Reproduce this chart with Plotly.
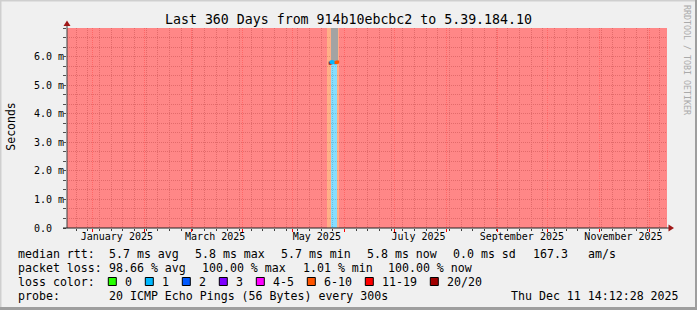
import pandas as pd
import plotly.graph_objects as go

# ---------------- data ----------------
T_START = "2024-12-16 14:12:28"
T_END = "2025-12-11 14:12:28"
Y_MAX = 0.007  # seconds

title_text = "Last 360 Days from 914b10ebcbc2 to 5.39.184.10"

y_tickvals = [0.0, 0.001, 0.002, 0.003, 0.004, 0.005, 0.006]
y_ticktext = ["0.0\u00a0\u00a0", "1.0 m", "2.0 m", "3.0 m", "4.0 m", "5.0 m", "6.0 m"]

x_tickvals = ["2025-01-15 12:00:00", "2025-03-15 12:00:00", "2025-05-15 12:00:00",
              "2025-07-15 12:00:00", "2025-09-15 12:00:00", "2025-11-15 12:00:00"]
x_ticktext = ["January 2025", "March 2025", "May 2025",
              "July 2025", "September 2025", "November 2025"]

loss_labels = ["0", "1", "2", "3", "4-5", "6-10", "11-19", "20/20"]
loss_colors = ["#26ff00", "#00b8ff", "#0059ff", "#7e00ff",
               "#ff00ff", "#ff5500", "#ff0000", "#a10000"]

# loss background segments
seg_start = [T_START, "2025-05-21 12:00:00", "2025-05-24 00:00:00", "2025-05-27 12:00:00", "2025-05-29 00:00:00"]
seg_end = ["2025-05-21 12:00:00", "2025-05-24 00:00:00", "2025-05-27 12:00:00", "2025-05-29 00:00:00", T_END]
seg_loss = ["11-19", "6-10", "1", "6-10", "11-19"]

# smoke
smoke_start = ["2025-05-24 00:00:00"]
smoke_end = ["2025-05-28 00:00:00"]
smoke_low = [0.00583]
smoke_high = [0.00700]

# median rtt
med_time = ["2025-05-23 12:00:00", "2025-05-24 00:00:00", "2025-05-24 12:00:00", "2025-05-25 00:00:00",
            "2025-05-25 12:00:00", "2025-05-26 00:00:00", "2025-05-26 12:00:00", "2025-05-27 00:00:00",
            "2025-05-27 12:00:00", "2025-05-28 00:00:00"]
med_rtt = [0.00577, 0.00580, 0.00582, 0.00580, 0.00579, 0.00580, 0.00578, 0.00579, 0.00580, 0.00581]
med_loss = ["20/20", "1", "1", "1", "1", "1", "1", "6-10", "6-10", "6-10"]

rtt_row_label = "median rtt:"
rtt_row_items = ["5.7 ms avg", "5.8 ms max", "5.7 ms min", "5.8 ms now", "0.0 ms sd", "167.3", "am/s"]
loss_row_label = "packet loss:"
loss_row_items = ["98.66 % avg", "100.00 % max", "1.01 % min", "100.00 % now"]
color_row_label = "loss color:"
probe_row_label = "probe:"
probe_text = "20 ICMP Echo Pings (56 Bytes) every 300s"
stamp_text = "Thu Dec 11 14:12:28 2025"
watermark = "RRDTOOL / TOBI OETIKER"
y_title = "Seconds"

# ---------------- layout constants ----------------
WIDTH, HEIGHT = 697, 310
L, T, W, H = 67, 28, 600, 200
FONT = "DejaVu Sans Mono"
BG_ALPHA = 0.47
MINOR_GRID = "#c8c8c8"
MAJOR_GRID = "#ff9a9a"
MAJOR_GRID_X = "#ffc0c0"


def px(x):
    return (x - L) / W


def py(y):
    return (T + H - y) / H


def rgba(hexc, a):
    hexc = hexc.lstrip("#")
    r, g, b = int(hexc[0:2], 16), int(hexc[2:4], 16), int(hexc[4:6], 16)
    return f"rgba({r},{g},{b},{a})"


def dt(v):
    return pd.to_datetime(pd.Series(v), format="mixed")


cmap = dict(zip(loss_labels, loss_colors))

fig = go.Figure()

# loss background
s = dt(seg_start)
e = dt(seg_end)
fig.add_trace(go.Bar(
    x=s + (e - s) / 2, y=[Y_MAX] * len(seg_start), base=0,
    width=(e - s).dt.total_seconds() * 1000,
    marker=dict(color=[rgba(cmap[k], BG_ALPHA) for k in seg_loss], line=dict(width=0)),
    hoverinfo="skip", showlegend=False))

# smoke
ss = dt(smoke_start)
se = dt(smoke_end)
fig.add_trace(go.Bar(
    x=ss + (se - ss) / 2, y=[h - l for h, l in zip(smoke_high, smoke_low)], base=smoke_low,
    width=(se - ss).dt.total_seconds() * 1000,
    marker=dict(color="#a3a3a3", line=dict(width=0)),
    hoverinfo="skip", showlegend=False))

# median
fig.add_trace(go.Scatter(
    x=dt(med_time), y=med_rtt, mode="markers",
    marker=dict(symbol="square", size=3, color=[cmap[k] for k in med_loss], line=dict(width=0)),
    hoverinfo="skip", showlegend=False))

common_x = dict(type="date", range=[T_START, T_END], showline=False, zeroline=False, fixedrange=True)

fig.update_layout(
    width=WIDTH, height=HEIGHT,
    margin=dict(l=L, r=WIDTH - L - W, t=T, b=HEIGHT - T - H, pad=0),
    paper_bgcolor="#f0f0f0", plot_bgcolor="#ffffff",
    barmode="overlay", bargap=0,
    font=dict(family=FONT, size=10, color="#000000"),
    showlegend=False,
    # weekly (minor) grid
    xaxis=dict(
        **common_x,
        tickmode="linear", tick0="2024-12-22", dtick=604800000, showticklabels=False,
        ticks="outside", ticklen=2, tickcolor="#404040", tickwidth=1,
        showgrid=True, gridcolor=MINOR_GRID, griddash="1px,1px", gridwidth=1,
    ),
    # monthly (major) grid
    xaxis3=dict(
        **common_x, overlaying="x", anchor="y", side="bottom",
        tickmode="linear", tick0="2025-01-01", dtick="M1", showticklabels=False,
        ticks="outside", ticklen=3, tickcolor="#ff0000", tickwidth=1,
        showgrid=True, gridcolor=MAJOR_GRID_X, griddash="1px,1px", gridwidth=1,
    ),
    # month labels
    xaxis2=dict(
        **common_x, overlaying="x", anchor="y", side="bottom",
        tickmode="array", tickvals=x_tickvals, ticktext=x_ticktext,
        showgrid=False, ticks="",
        tickfont=dict(family=FONT, size=10, color="#000000"),
        ticklabelstandoff=1,
    ),
    yaxis=dict(
        range=[0, Y_MAX], showline=False, zeroline=False, fixedrange=True,
        tickmode="array", tickvals=y_tickvals, ticktext=y_ticktext,
        tickfont=dict(family=FONT, size=10, color="#000000"),
        ticks="",
        showgrid=True, gridcolor=MAJOR_GRID, griddash="1px,1px",
        ticklabelstandoff=2,
    ),
    # minor y grid (thirds of 1 m)
    yaxis2=dict(
        range=[0, Y_MAX], overlaying="y", anchor="x", side="left",
        showline=False, zeroline=False, fixedrange=True,
        tickmode="linear", tick0=0, dtick=0.001 / 3, showticklabels=False,
        ticks="outside", ticklen=3, tickcolor="#505050",
        showgrid=True, gridcolor=MINOR_GRID, griddash="1px,1px",
    ),
)

# invisible traces so the overlay axes are active
fig.add_trace(go.Scatter(x=[T_START], y=[0], xaxis="x2", yaxis="y", mode="markers",
                         marker=dict(opacity=0), hoverinfo="skip", showlegend=False))
fig.add_trace(go.Scatter(x=[T_START], y=[0], xaxis="x3", yaxis="y2", mode="markers",
                         marker=dict(opacity=0), hoverinfo="skip", showlegend=False))

shapes = []
# frame
shapes.append(dict(type="line", xref="paper", yref="paper", x0=px(0), x1=px(WIDTH), y0=py(0.5), y1=py(0.5),
                   line=dict(color="#cfcfcf", width=2)))
shapes.append(dict(type="line", xref="paper", yref="paper", x0=px(0.5), x1=px(0.5), y0=py(0), y1=py(HEIGHT),
                   line=dict(color="#cfcfcf", width=2)))
shapes.append(dict(type="line", xref="paper", yref="paper", x0=px(0), x1=px(WIDTH), y0=py(HEIGHT - 1.5), y1=py(HEIGHT - 1.5),
                   line=dict(color="#9e9e9e", width=3)))
shapes.append(dict(type="line", xref="paper", yref="paper", x0=px(WIDTH - 1), x1=px(WIDTH - 1), y0=py(0), y1=py(HEIGHT),
                   line=dict(color="#9e9e9e", width=2)))
# axis lines
shapes.append(dict(type="line", xref="paper", yref="paper", x0=px(67), x1=px(67), y0=py(228), y1=py(24),
                   line=dict(color="#404040", width=1)))
shapes.append(dict(type="line", xref="paper", yref="paper", x0=px(63), x1=px(670), y0=py(228), y1=py(228),
                   line=dict(color="#202020", width=1)))
# arrows
shapes.append(dict(type="path", xref="paper", yref="paper",
                   path=f"M {px(67)},{py(20.5)} L {px(63.5)},{py(26)} L {px(70.5)},{py(26)} Z",
                   fillcolor="#a01818", line=dict(width=0)))
shapes.append(dict(type="path", xref="paper", yref="paper",
                   path=f"M {px(674)},{py(228)} L {px(668.5)},{py(224.5)} L {px(668.5)},{py(231.5)} Z",
                   fillcolor="#a01818", line=dict(width=0)))

LSIZE = 11.6
ROWS = [253.5, 267.5, 281.5, 295.5]


def ann(x, y, text, xanchor="left", size=LSIZE, **kw):
    d = dict(x=px(x), y=py(y), text=text, xanchor=xanchor, yanchor="middle",
             xref="paper", yref="paper", showarrow=False,
             font=dict(family=FONT, size=size, color="#000000"))
    d.update(kw)
    return d


annotations = []
# legend colour boxes
bx = 108.3
for lab, col in zip(loss_labels, loss_colors):
    shapes.append(dict(type="rect", xref="paper", yref="paper",
                       x0=px(bx), x1=px(bx + 8), y0=py(285.5), y1=py(277.5),
                       fillcolor=col, line=dict(color="#000000", width=1)))
    annotations.append(ann(bx + 15, ROWS[2], lab))
    bx += 30 + 7.0 * len(lab)

fig.update_layout(shapes=shapes)

annotations.append(ann(348.5, 19, title_text, xanchor="center", size=13.25))
annotations.append(ann(16, ROWS[0], rtt_row_label))
rtt_x = [107.3, 193.3, 279.3, 365.0, 451.0, 530.7, 586.0]
for x, t in zip(rtt_x, rtt_row_items):
    annotations.append(ann(x, ROWS[0], t))
annotations.append(ann(16, ROWS[1], loss_row_label))
loss_x = [107.3, 200.3, 300.5, 386.3]
for x, t in zip(loss_x, loss_row_items):
    annotations.append(ann(x, ROWS[1], t))
annotations.append(ann(16, ROWS[2], color_row_label))
annotations.append(ann(16, ROWS[3], probe_row_label))
annotations.append(ann(107.3, ROWS[3], probe_text))
annotations.append(ann(681, ROWS[3], stamp_text, xanchor="right"))
annotations.append(ann(10.7, 127, y_title, xanchor="center", size=11.5, textangle=-90))
annotations.append(ann(687, 60, watermark, xanchor="center", textangle=90,
                       font=dict(family=FONT, size=8.3, color="#aaaaaa")))
fig.update_layout(annotations=annotations)

fig.write_html("out.html", config={"displayModeBar": False})
